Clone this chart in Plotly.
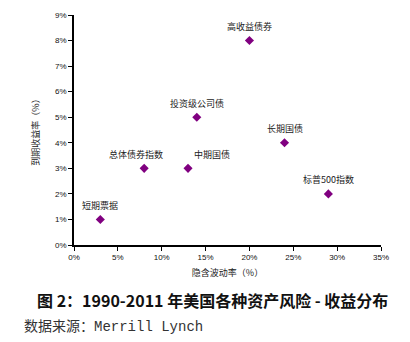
import plotly.graph_objects as go

labels = ["短期票据", "总体债券指数", "中期国债", "投资级公司债", "高收益债券", "长期国债", "标普500指数"]
volatility = [3, 8, 13, 14, 20, 24, 29]
yields = [1, 3, 3, 5, 8, 4, 2]
x_ticks = list(range(0, 36, 5))
y_ticks = list(range(0, 10))

label_dx = [0, -8, 24, 0, 0, 0, 0]

fig = go.Figure()
fig.add_trace(go.Scatter(
    x=volatility, y=yields, mode="markers",
    marker=dict(symbol="diamond", size=7, color="#800080"),
    hoverinfo="skip", showlegend=False,
))

for lab, xv, yv, dx in zip(labels, volatility, yields, label_dx):
    fig.add_annotation(x=xv, y=yv, text=lab, showarrow=False, xshift=dx, yshift=14,
                       font=dict(family="Noto Sans CJK SC", size=9, color="#222"))

axis_common = dict(showgrid=False, zeroline=False, showline=True, linecolor="black", linewidth=1.5,
                   ticks="outside", ticklen=4, tickcolor="black",
                   tickfont=dict(family="Liberation Sans", size=8, color="#111"))

fig.update_xaxes(range=[0, 35], tickmode="array", tickvals=x_ticks, ticktext=[f"{v}%" for v in x_ticks],
                 title=dict(text="隐含波动率（%）", font=dict(family="Noto Sans CJK SC", size=9, color="#222"), standoff=8),
                 **axis_common)
fig.update_yaxes(range=[0, 9], tickmode="array", tickvals=y_ticks, ticktext=[f"{v}%" for v in y_ticks],
                 title=dict(text="到期收益率（%）", font=dict(family="Noto Sans CJK SC", size=9, color="#222"), standoff=14),
                 **axis_common)

fig.add_annotation(xref="paper", yref="paper", x=0.5, y=-55/230, xanchor="center", yanchor="middle",
                   text="<b>图 2：1990-2011 年美国各种资产风险 - 收益分布</b>", showarrow=False,
                   xshift=-15, font=dict(family="Noto Sans CJK SC", size=16, color="#111"))
fig.add_annotation(xref="paper", yref="paper", x=0, y=-82/230, xanchor="left", yanchor="middle",
                   text="数据来源：Merrill Lynch", showarrow=False, xshift=-52,
                   font=dict(family="Liberation Mono, Noto Sans CJK SC", size=14, color="#333"))

fig.update_layout(width=410, height=342, margin=dict(l=74, r=29, t=15, b=97),
                  paper_bgcolor="white", plot_bgcolor="white")

fig.write_html("out.html")
